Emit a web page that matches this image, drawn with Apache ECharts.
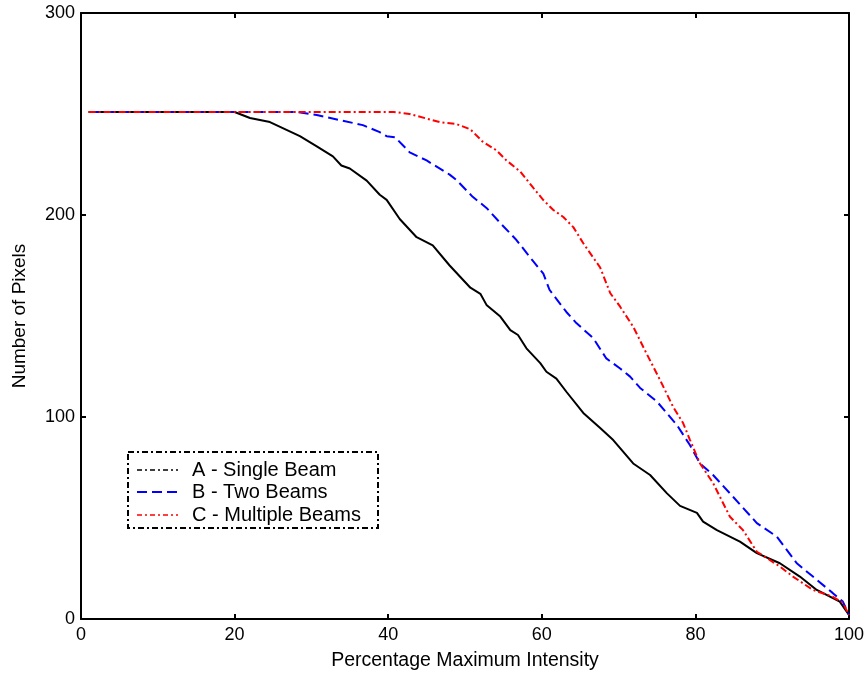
<!DOCTYPE html>
<html><head><meta charset="utf-8">
<script src="https://cdn.jsdelivr.net/npm/echarts@6/dist/echarts.min.js"></script>
<style>html,body{margin:0;padding:0;background:#fff}#c{width:868px;height:675px}</style>
</head><body><div id="c"></div>
<script>
const xTicks = [0, 20, 40, 60, 80, 100];
const yTicks = [0, 100, 200, 300];
const seriesNames = ['A - Single Beam', 'B - Two Beams', 'C - Multiple Beams'];

const xA = [1, 20, 22, 24.6, 28.5, 30.7, 32.8, 33.9, 35, 37.2, 38.9, 39.8, 41.5, 43.7, 45.8, 48, 50.7, 52, 52.8, 54.6, 55.9, 56.9, 58, 59.8, 60.6, 61.9, 63.2, 65.4, 67.6, 69.3, 71.9, 74.1, 76.3, 78, 80.2, 81, 82.8, 85.8, 88, 91, 93.6, 95.8, 98.8, 100];
const yA = [251, 251, 248, 246, 239, 234, 229, 224.5, 223, 217, 210, 207.5, 198, 189, 185, 175, 164, 161, 155.5, 149.7, 143, 140.6, 134, 126.7, 122.4, 119, 112.5, 102, 94.5, 88.6, 77, 71.3, 62.2, 56, 52.5, 48.2, 44, 38.3, 32.6, 27.6, 21, 14.4, 8.6, 2];

const xB = [1, 28.1, 30.7, 33.7, 36.7, 38.9, 39.8, 40.9, 42.8, 45, 48, 48.9, 51, 52.8, 54.6, 56.7, 58.9, 60.2, 61, 63.2, 64.5, 66.7, 68.4, 70.2, 71.5, 72.8, 75, 77.6, 79.3, 80.6, 82.3, 84.9, 88, 90.6, 93.2, 95.3, 97.9, 99.2, 100];
const yB = [251, 251, 249.5, 247, 244.5, 241, 239, 238.5, 231, 227, 220, 217.3, 209, 203.5, 196, 187.6, 177, 171, 163, 152, 146.5, 139, 129, 124, 120, 114.4, 107.6, 96, 86, 77, 71.3, 60.5, 47.5, 40.8, 27.6, 21, 12.8, 8.6, 2];

const xC = [1, 40.7, 42.8, 46.7, 48.9, 50.7, 52.3, 54.1, 55.4, 57.2, 58.9, 60.2, 61.5, 62.8, 64.1, 65.4, 67.6, 68.9, 70.2, 71.9, 73.6, 75.4, 77.1, 78.4, 79.3, 80.6, 82.3, 84.5, 86.2, 88, 91, 92.7, 95.3, 97.9, 99.2, 100];
const yC = [251, 251, 250, 246, 245, 242.4, 236.3, 232, 227, 221.5, 213.4, 207.4, 202.5, 199, 194, 186, 174, 161.4, 154.6, 144.7, 131.7, 118.3, 105, 97, 88.6, 77, 67.3, 50.6, 44, 33.3, 26, 21, 14.4, 11, 8, 2];

const pairs = (xs, ys) => xs.map((x, i) => [x, ys[i]]);
const FONT = 'Liberation Sans, Arial, sans-serif';

const chart = echarts.init(document.getElementById('c'), null, {renderer: 'canvas'});
const axisCommon = {
  axisLine: {show: true, onZero: false, lineStyle: {color: '#000', width: 2}},
  axisTick: {show: true, inside: true, length: 5, lineStyle: {color: '#000', width: 2}},
  splitLine: {show: false}
};
chart.setOption({
  animation: false,
  backgroundColor: '#fff',
  grid: {left: 81, right: 19, top: 13, bottom: 56, show: false, containLabel: false, outerBoundsMode: 'none'},
  xAxis: [
    Object.assign({type: 'value', min: 0, max: 100, interval: 20, position: 'bottom',
      name: 'Percentage Maximum Intensity', nameLocation: 'middle', nameGap: 32,
      nameTextStyle: {fontFamily: FONT, fontSize: 19.5, color: '#000'},
      axisLabel: {fontFamily: FONT, fontSize: 18, color: '#000', margin: 7}}, axisCommon),
    Object.assign({type: 'value', min: 0, max: 100, interval: 20, position: 'top',
      axisLabel: {show: false}}, axisCommon)
  ],
  yAxis: [
    Object.assign({type: 'value', min: 0, max: 300, interval: 100, position: 'left',
      name: 'Number of Pixels', nameLocation: 'middle', nameGap: 52, nameRotate: 90,
      nameTextStyle: {fontFamily: FONT, fontSize: 19, color: '#000'},
      axisLabel: {fontFamily: FONT, fontSize: 18, color: '#000', margin: 6}}, axisCommon),
    Object.assign({type: 'value', min: 0, max: 300, interval: 100, position: 'right',
      axisLabel: {show: false}}, axisCommon)
  ],
  series: [
    {name: seriesNames[0], type: 'line', data: pairs(xA, yA), showSymbol: false, symbol: 'none',
      lineStyle: {color: '#000', width: 2, type: 'solid'}},
    {name: seriesNames[1], type: 'line', data: pairs(xB, yB), showSymbol: false, symbol: 'none',
      lineStyle: {color: '#0000ff', width: 2, type: [10, 5]}},
    {name: seriesNames[2], type: 'line', data: pairs(xC, yC), showSymbol: false, symbol: 'none',
      lineStyle: {color: '#ff0000', width: 2, type: [7, 3, 2, 3]}}
  ],
  graphic: [
    {type: 'rect', shape: {x: 128, y: 452, width: 250, height: 76},
      style: {fill: '#fff', stroke: '#000', lineWidth: 2, lineDash: [6, 3, 2, 3]}, z: 100},
    {type: 'line', shape: {x1: 137, y1: 470, x2: 178, y2: 470}, style: {stroke: '#000', lineWidth: 1.5, lineDash: [5, 3, 2, 3]}, z: 101},
    {type: 'line', shape: {x1: 137, y1: 492, x2: 178, y2: 492}, style: {stroke: '#0000ff', lineWidth: 2, lineDash: [10, 5]}, z: 101},
    {type: 'line', shape: {x1: 137, y1: 515, x2: 178, y2: 515}, style: {stroke: '#ff0000', lineWidth: 1.5, lineDash: [5, 3, 2, 3]}, z: 101},
    {type: 'text', x: 192, y: 470, style: {text: seriesNames[0], font: '20px ' + FONT, fill: '#000', textVerticalAlign: 'middle'}, z: 101},
    {type: 'text', x: 192, y: 492, style: {text: seriesNames[1], font: '20px ' + FONT, fill: '#000', textVerticalAlign: 'middle'}, z: 101},
    {type: 'text', x: 192, y: 515, style: {text: seriesNames[2], font: '20px ' + FONT, fill: '#000', textVerticalAlign: 'middle'}, z: 101}
  ]
});
</script></body></html>
